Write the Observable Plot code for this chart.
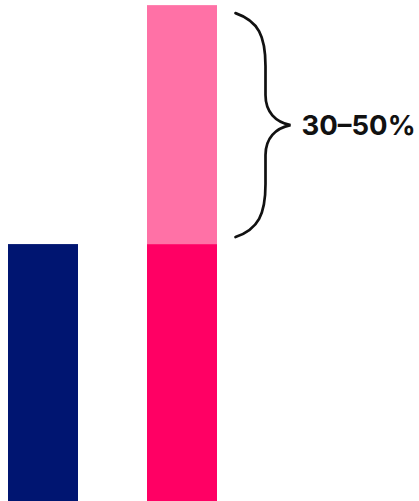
<!DOCTYPE html>
<html>
<head>
<meta charset="utf-8">
<script src="https://cdn.jsdelivr.net/npm/d3@7"></script>
<script src="https://cdn.jsdelivr.net/npm/@observablehq/plot@0.6"></script>
<style>
  html, body { margin: 0; padding: 0; background: #fff; }
  #chart svg { display: block; }
</style>
</head>
<body>
<div id="chart"></div>
<script>
// Two columns: the current level and the projected level with its uplift on top
const columns = ["current", "projected"];
const baseValues = [100, 100];
const upliftValues = [0, 93];
const segments = ["base-current", "base-projected", "uplift"];
const segmentColors = ["#001571", "#FF0064", "#FF71A6"];
const upliftLabel = "30–50%";

const rows = [];
columns.forEach((c, i) => {
  rows.push({column: c, segment: i === 0 ? "base-current" : "base-projected", value: baseValues[i]});
  if (upliftValues[i] > 0) rows.push({column: c, segment: "uplift", value: upliftValues[i]});
});

const W = 419, H = 501;
const projectedTotal = baseValues[1] + upliftValues[1];

const plot = Plot.plot({
  width: W,
  height: H,
  margin: 0,
  x: {domain: columns, range: [8, 217], paddingInner: 0.5, paddingOuter: 0, axis: null},
  y: {domain: [0, 195], axis: null},
  color: {domain: segments, range: segmentColors},
  style: {background: "#fff"},
  marks: [
    Plot.barY(rows, {x: "column", y: "value", fill: "segment", inset: 0}),
    Plot.text([upliftLabel], {
      x: () => columns[1],
      y: () => baseValues[1] + upliftValues[1] / 2,
      text: d => d,
      dx: 119,
      dy: 1,
      textAnchor: "start",
      fill: "#111",
      fontSize: 27.5,
      fontWeight: 700,
      fontFamily: "Inter, Roboto, sans-serif"
    })
  ]
});

// Curly brace spanning the uplift segment, placed through the plot's scales
const xs = plot.scale("x"), ys = plot.scale("y");
const xEnd = xs.apply(columns[1]) + xs.bandwidth;
const y1 = ys.apply(projectedTotal) + 8;
const y2 = ys.apply(baseValues[1]) - 7;
const ym = (y1 + y2) / 2;
const x0 = xEnd + 18.5, xa = x0 + 30, xt = x0 + 55;
const d = [
  `M${x0},${y1}`,
  `C${x0 + 23},${y1 + 8} ${xa},${y1 + 23} ${xa},${y1 + 53}`,
  `L${xa},${ym - 30}`,
  `C${xa},${ym - 13} ${xa + 10},${ym - 3} ${xt},${ym}`,
  `C${xa + 10},${ym + 3} ${xa},${ym + 13} ${xa},${ym + 30}`,
  `L${xa},${y2 - 53}`,
  `C${xa},${y2 - 23} ${x0 + 23},${y2 - 8} ${x0},${y2}`
].join(" ");
d3.select(plot).append("path")
  .attr("d", d)
  .attr("fill", "none")
  .attr("stroke", "#111")
  .attr("stroke-width", 2.7)
  .attr("stroke-linecap", "round");

document.getElementById("chart").append(plot);
</script>
</body>
</html>
